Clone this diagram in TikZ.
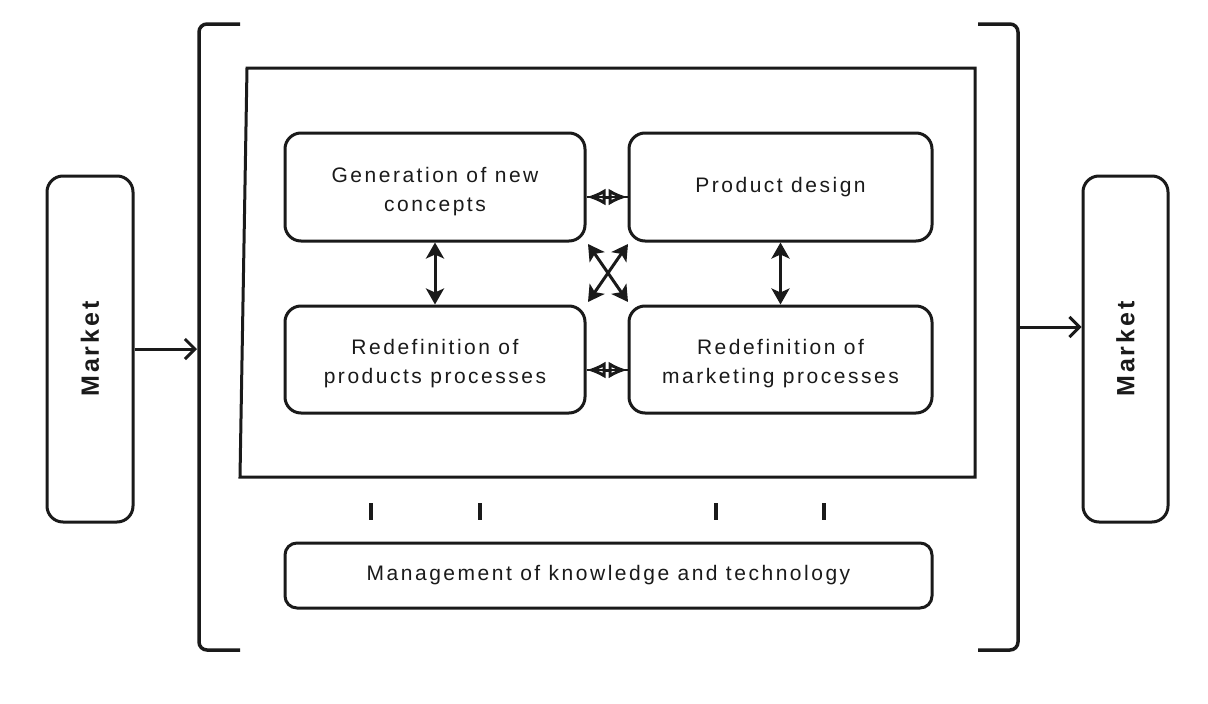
\documentclass[tikz,border=0pt]{standalone}
\usepackage{fontspec}
\setmainfont{Liberation Sans}[LetterSpace=12]
\usetikzlibrary{arrows.meta}
\definecolor{ink}{HTML}{1A1A1A}
\newcommand{\twolines}[2]{\begin{tabular}{@{}c@{}}\rule{0pt}{28pt}#1\\#2\end{tabular}}
\begin{document}
\begin{tikzpicture}[x=1pt,y=-1pt,
  box/.style={draw=ink, line width=3pt, rounded corners=16pt, fill=white, align=center, inner sep=0pt,
     font=\fontsize{21}{29}\selectfont, text=ink},
  mkt/.style={box, minimum width=86pt, minimum height=346pt, font=\fontsize{25}{29}\selectfont\bfseries},
  frame/.style={draw=ink, line width=3pt},
  brk/.style={draw=ink, line width=3.5pt},
  flow/.style={draw=ink, line width=3pt, -{Straight Barb[length=10pt,width=20pt,line width=3pt]}},
  dbl/.style={draw=ink, line width=3pt, {Stealth[length=16pt,width=18pt,inset=4pt]}-{Stealth[length=16pt,width=18pt,inset=4pt]}},
  lens/.style={draw=ink, line width=3pt, {Latex[open,length=19pt,width=17pt]}-{Latex[open,length=19pt,width=17pt]}},
  tick/.style={draw=ink, line width=4pt}
]
\useasboundingbox[fill=white] (0,0) rectangle (1208,704);

% brackets
\draw[brk] (240,24) -- (207,24) to[out=180,in=90] (199,32) -- (199,642) to[out=-90,in=180] (207,650) -- (240,650);
\draw[brk] (978,24) -- (1010,24) to[out=0,in=90] (1018,32) -- (1018,642) to[out=-90,in=0] (1010,650) -- (978,650);

% inner frame
\draw[frame] (247,68) -- (975,68) -- (975,477) -- (240,477) -- cycle;

% market boxes
\node[mkt] (mL) at (90,349) {\rotatebox{90}{Market}};
\node[mkt, minimum width=85pt] (mR) at (1125.5,349) {\rotatebox{90}{Market}};

% process boxes
\node[box, minimum width=300pt, minimum height=108pt] (gen) at (435,187) {\twolines{Generation of new}{concepts}};
\node[box, minimum width=303pt, minimum height=108pt] (pd) at (780.5,187) {Product design};
\node[box, minimum width=300pt, minimum height=107pt] (rpp) at (435,359.5) {\twolines{Redefinition of}{products processes}};
\node[box, minimum width=303pt, minimum height=107pt] (rmp) at (780.5,359.5) {\twolines{Redefinition of}{marketing processes}};
\node[box, minimum width=647pt, minimum height=65pt, rounded corners=12pt] (mgmt) at (608.5,575.5) {Management of knowledge and technology};

% market arrows
\coordinate (lb) at (197,349);
\coordinate (rb) at (1018,327);
\draw[flow] (mL.east) -- (lb);
\draw[flow] (rb) -- (rb -| mR.west);

% vertical double arrows
\draw[dbl] (gen.south) -- (rpp.north);
\draw[dbl] (pd.south) -- (rmp.north);

% horizontal lens connectors
\coordinate (g1) at (gen.east |- 0,197);
\coordinate (p1) at (pd.west |- 0,197);
\coordinate (r1) at (rpp.east |- 0,370);
\coordinate (m1) at (rmp.west |- 0,370);
\draw[draw=ink, line width=2.5pt] (g1) -- (p1);
\draw[lens] (g1) -- (p1);
\draw[draw=ink, line width=2.5pt] (r1) -- (m1);
\draw[lens] (r1) -- (m1);

% diagonal cross
\coordinate (x1) at (588,244);
\coordinate (x2) at (628,302);
\coordinate (x3) at (628,244);
\coordinate (x4) at (588,302);
\draw[dbl] (x1) -- (x2);
\draw[dbl] (x3) -- (x4);

% ticks
\foreach \x/\n in {371/a,480/b,716/c,824/d} {
  \coordinate (t\n1) at (\x,503);
  \coordinate (t\n2) at (\x,520);
  \draw[tick] (t\n1) -- (t\n2);
}
\end{tikzpicture}
\end{document}
